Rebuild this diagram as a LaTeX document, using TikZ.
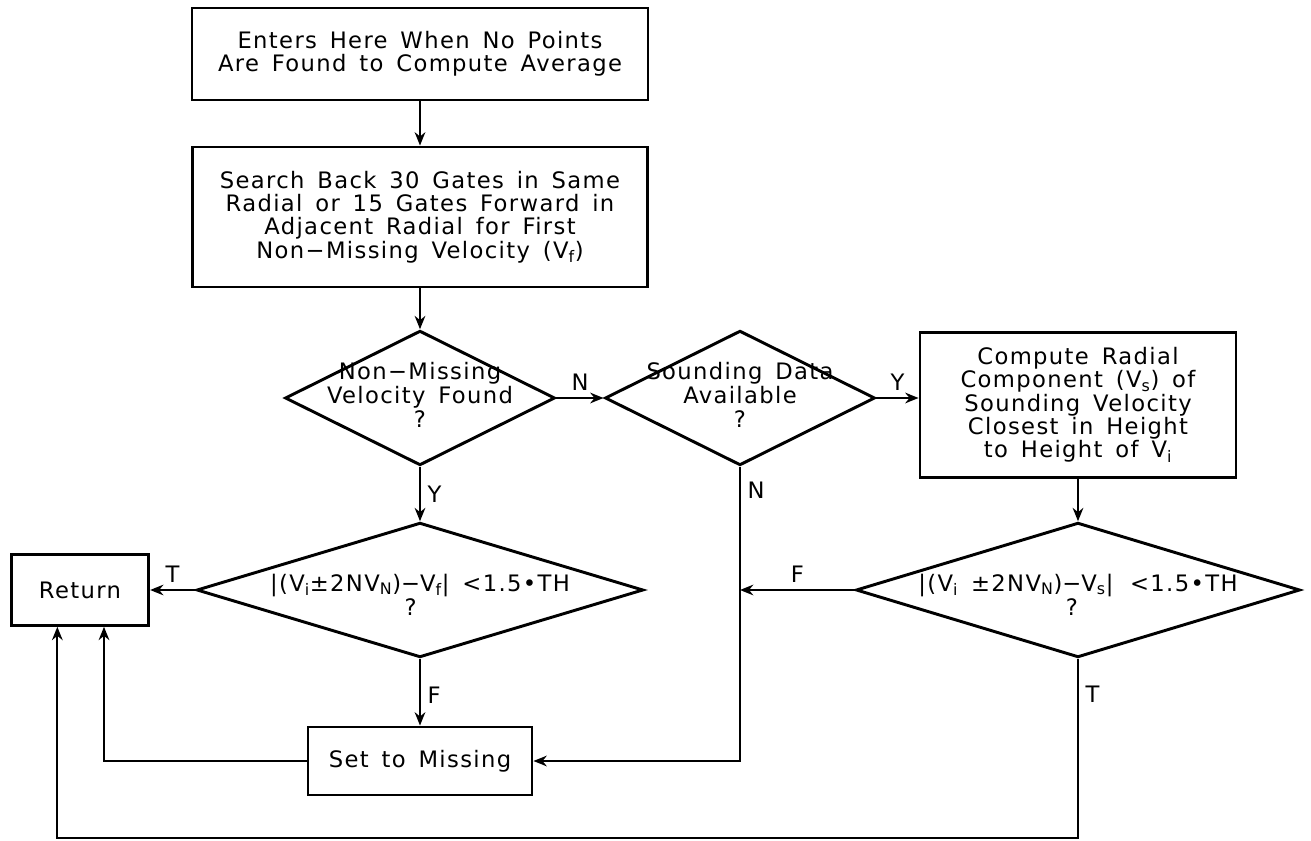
\documentclass[tikz,border=0pt]{standalone}
\usepackage{fontspec}
\setmainfont{DejaVu Sans}[WordSpace=1.5,LetterSpace=6]
\usetikzlibrary{shapes.geometric,arrows.meta}

\tikzset{every picture/.style={line width=1.5pt}}
\tikzset{
  txt/.style={font=\fontsize{17}{17.5}\selectfont},
  procbox/.style={draw, rectangle, line width=2.2pt, align=center, inner sep=0pt, txt},
  decision/.style={draw, diamond, line width=2.2pt, align=center, inner sep=0pt, txt},
  flow/.style={-{Stealth[length=10pt,width=8pt]}},
  branch/.style={txt, inner sep=5pt}
}
\newcommand{\qmin}{\begin{tabular}[t]{@{}c@{}}−\\[0pt]?\end{tabular}}
\newcommand{\nowide}[1]{\makebox[0pt]{\begin{tabular}{@{}c@{}}#1\end{tabular}}}
\newcommand{\lowered}[1]{\raisebox{-6pt}[\height][\depth]{#1}}

\begin{document}
\begin{tikzpicture}[x=0.75pt,y=0.75pt,yscale=-1,xscale=1]
\useasboundingbox (0,0) rectangle (1311,841);

% Boxes
\node[procbox, minimum width=342pt, minimum height=69pt] (start) at (420,54)
  {Enters Here When No Points\\Are Found to Compute Average};
\node[procbox, minimum width=341pt, minimum height=105pt] (search) at (420,217)
  {Search Back 30 Gates in Same\\Radial or 15 Gates Forward in\\Adjacent Radial for First\\Non−Missing Velocity (V\textsubscript{f})};
\node[procbox, minimum width=237pt, minimum height=109pt] (compute) at (1078,405)
  {Compute Radial\\Component (V\textsubscript{s}) of\\Sounding Velocity\\Closest in Height\\to Height of V\textsubscript{i}};
\node[procbox, minimum width=103pt, minimum height=53pt] (return) at (80,590) {Return};
\node[procbox, minimum width=168pt, minimum height=51pt] (missing) at (420,761) {Set to Missing};

% Decisions
\node[decision, minimum width=202.5pt, minimum height=101pt] (found) at (420,398)
  {\nowide{Non−Missing\\Velocity Found\\?}};
\node[decision, minimum width=202.5pt, minimum height=101pt] (sounding) at (740,398)
  {\nowide{Sounding Data\\Available\\?}};
\node[decision, minimum width=335pt, minimum height=101pt] (checkf) at (420,590)
  {\nowide{\lowered{|(V\textsubscript{i}±2NV\textsubscript{N})\qmin V\textsubscript{f}| <1.5•TH}}};
\node[decision, minimum width=333pt, minimum height=101pt] (checks) at (1078,590)
  {\nowide{\lowered{|(V\textsubscript{i} ±2NV\textsubscript{N})\qmin V\textsubscript{s}| \,<1.5•TH}}};

% Connectors
\draw[flow] (start) -- (search);
\draw[flow] (search) -- (found);
\draw[flow] (found.east) -- node[branch, above] (lfoundn) {N} (sounding.west);
\draw[flow] (sounding.east) -- node[branch, above] (lsoundy) {Y} (sounding.east -| compute.west);
\draw[flow] (found.south) -- node[branch, right] (lfoundy) {Y} (checkf.north);
\draw[flow] (compute.south) -- (checks.north);
\draw[flow] (checkf.west) -- node[branch, above] (lcheckt) {T} (return.east);
\draw[flow] (checkf.south) -- node[branch, right, pos=0.55] (lcheckf) {F} (missing.north);
\draw[flow] (sounding.south) -- node[branch, right, pos=0.08] (lsoundn) {N}
  (sounding.south |- missing.east) -- (missing.east);
\coordinate (fjoin) at (sounding.south |- checks.west);
\draw[flow] (checks.west) -- node[branch, above] (lchecksf) {F} (fjoin);
\draw[flow] (missing.west) -| ([xshift=18pt]return.south);
\coordinate (loop) at (checks.south |- 0,838);
\draw[flow] (checks.south) -- node[branch, right, pos=0.2] (lcheckst) {T} (loop)
  -| ([xshift=-17pt]return.south);

\end{tikzpicture}
\end{document}
